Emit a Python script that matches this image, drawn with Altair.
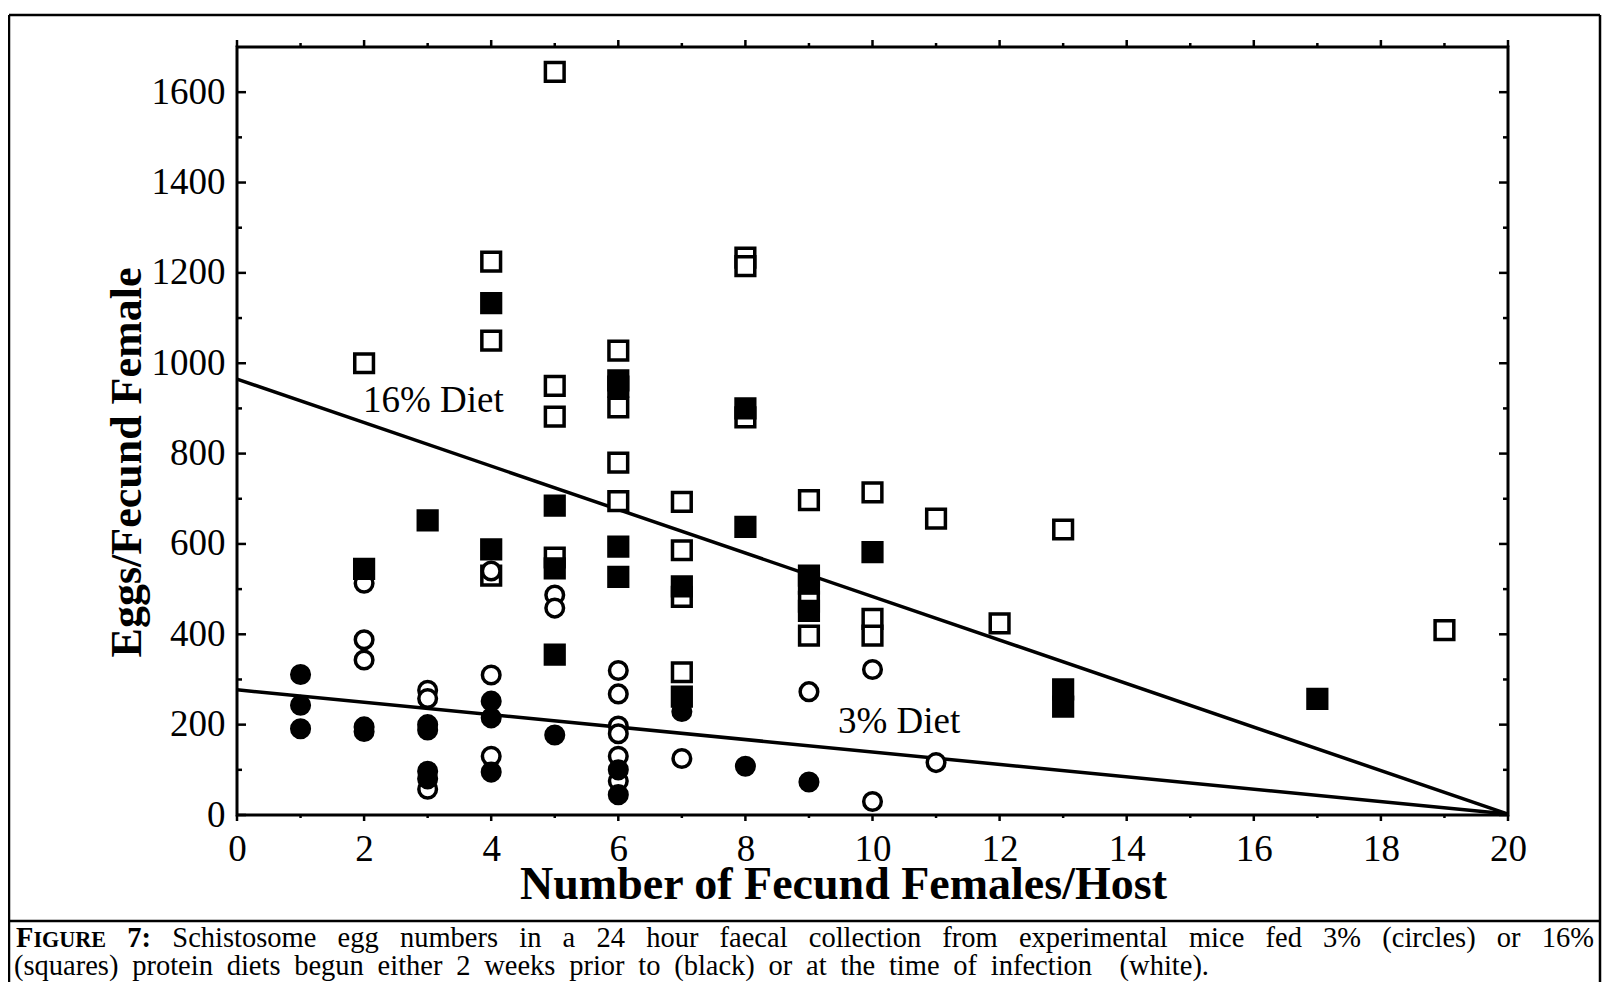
import altair as alt
import pandas as pd

# ---------------- data ----------------
# 16% protein diet (squares); white = diet begun at infection, black = 2 weeks prior
sq_open_x = [2, 4, 4, 4, 5, 5, 5, 5, 6, 6, 6, 6, 7, 7, 7, 7, 8, 8, 8, 9, 9, 9, 10, 10, 10, 11, 12, 13, 19]
sq_open_y = [1000, 1225, 1050, 530, 1645, 950, 882, 570, 1028, 902, 780, 695, 693, 586, 483, 316,
             1234, 1215, 880, 697, 472, 397, 714, 434, 397, 656, 424, 632, 409]
sq_fill_x = [2, 3, 4, 4, 5, 5, 5, 6, 6, 6, 6, 7, 7, 8, 8, 9, 9, 9, 10, 13, 13, 17]
sq_fill_y = [545, 652, 1133, 588, 685, 546, 355, 962, 948, 594, 527, 506, 262, 900, 638,
             530, 512, 452, 582, 278, 240, 257]
# 3% protein diet (circles)
ci_open_x = [2, 2, 2, 3, 3, 3, 4, 4, 4, 5, 5, 6, 6, 6, 6, 6, 6, 7, 9, 10, 10, 11]
ci_open_y = [513, 388, 343, 276, 258, 57, 540, 310, 130, 487, 458, 320, 268, 197, 180, 130, 75,
             125, 273, 322, 30, 116]
ci_fill_x = [1, 1, 1, 2, 2, 3, 3, 3, 3, 4, 4, 4, 5, 6, 6, 7, 8, 9]
ci_fill_y = [311, 243, 191, 195, 185, 200, 188, 97, 80, 252, 215, 95, 177, 100, 45, 229, 108, 73]

# regression lines
line16_x = [0, 20]
line16_y = [965, 2]
line3_x = [0, 20]
line3_y = [277, 2]

# axes
x_major_ticks = [0, 2, 4, 6, 8, 10, 12, 14, 16, 18, 20]
x_minor_ticks = [1, 3, 5, 7, 9, 11, 13, 15, 17, 19]
y_major_ticks = [0, 200, 400, 600, 800, 1000, 1200, 1400, 1600]
y_minor_ticks = [100, 300, 500, 700, 900, 1100, 1300, 1500]
x_title = "Number of Fecund Females/Host"
y_title = "Eggs/Fecund Female"

# line annotations
annot_text = ["16% Diet", "3% Diet"]
annot_x = [3.09, 10.42]
annot_y = [893, 181]

caption_line1 = ("Schistosome egg numbers in a 24 hour faecal collection from "
                 "experimental mice fed 3% (circles) or 16%")
caption_line2 = ("(squares) protein diets begun either 2 weeks prior to (black) or at "
                 "the time of infection  (white).")

# ---------------- layout ----------------
FONT = "Liberation Serif"
W, H = 1271, 768
PX0, PY0 = 237, 47          # page position of plot origin
CW, CH = 1594, 974          # whole canvas


def px(xp):
    return xp - PX0


def py(yp):
    return yp - PY0


XS = alt.Scale(domain=[0, 20], nice=False, zero=False)
YS = alt.Scale(domain=[0, 1700], nice=False, zero=False)

AX_X = alt.Axis(orient="bottom", values=x_major_ticks, format="d", ticks=False, tickSize=0,
                domain=False, grid=False, labelPadding=16, labelFont=FONT, labelFontSize=37,
                labelColor="black", labelFlush=False, labelOverlap=False,
                title=x_title, titleFont=FONT, titleFontSize=46, titleFontWeight="bold",
                titleColor="black", titleX=px(843), titleY=898 - 815,
                titleBaseline="alphabetic", titleAlign="center")
AX_Y = alt.Axis(orient="left", values=y_major_ticks, format="d", ticks=False, tickSize=0,
                domain=False, grid=False, labelPadding=12, labelFont=FONT, labelFontSize=37,
                labelColor="black", labelFlush=False, labelOverlap=False,
                title=y_title, titleFont=FONT, titleFontSize=44, titleFontWeight="bold",
                titleColor="black", titleAngle=270, titleX=px(127), titleY=py(462),
                titleBaseline="middle", titleAlign="center")


def X(field, axis=None):
    if axis is not None:
        return alt.X(field, scale=XS, axis=axis)
    return alt.X(field, scale=XS)


def Y(field, axis=None):
    if axis is not None:
        return alt.Y(field, scale=YS, axis=axis)
    return alt.Y(field, scale=YS)


one = pd.DataFrame({"k": [0]})


def points(xs, ys, shape, fill):
    df = pd.DataFrame({"x": xs, "y": ys})
    size = 350 if shape == "square" else 310
    return alt.Chart(df).mark_point(shape=shape, size=size, filled=True, fill=fill,
                                    stroke="black", strokeWidth=3.5, opacity=1).encode(
        x=X("x:Q"), y=Y("y:Q"))


def reg_line(xs, ys):
    df = pd.DataFrame({"x": xs, "y": ys})
    return alt.Chart(df).mark_line(color="black", strokeWidth=3.5).encode(x=X("x:Q"), y=Y("y:Q"))


def yticks(vals, x0, x1, axis=None):
    return alt.Chart(pd.DataFrame({"v": vals})).mark_rule(color="black", strokeWidth=2.5).encode(
        y=Y("v:Q", axis), x=alt.value(x0), x2=alt.value(x1))


def xticks(vals, y0, y1, axis=None):
    return alt.Chart(pd.DataFrame({"v": vals})).mark_rule(color="black", strokeWidth=2.5).encode(
        x=X("v:Q", axis), y=alt.value(y0), y2=alt.value(y1))


def frame_v(xp, y0p, y1p):
    return alt.Chart(one).mark_rule(color="black", strokeWidth=2.5).encode(
        x=alt.value(px(xp)), y=alt.value(py(y0p)), y2=alt.value(py(y1p)))


def frame_h(yp, x0p, x1p):
    return alt.Chart(one).mark_rule(color="black", strokeWidth=2.5).encode(
        y=alt.value(py(yp)), x=alt.value(px(x0p)), x2=alt.value(px(x1p)))


def text_at(text, xp, yp, size, weight="normal"):
    return alt.Chart(one).mark_text(text=text, font=FONT, fontSize=size, fontWeight=weight,
                                    align="left", baseline="alphabetic", color="black").encode(
        x=alt.value(px(xp)), y=alt.value(py(yp)))


# --- Times-metric glyph widths (per 1000 em) used to justify the caption ---
REG = {" ": 250, "%": 833, "(": 333, ")": 333, ".": 250, ":": 278, "S": 556,
       "a": 444, "b": 500, "c": 444, "d": 500, "e": 444, "f": 333, "g": 500, "h": 500,
       "i": 278, "j": 278, "k": 500, "l": 278, "m": 778, "n": 500, "o": 500, "p": 500,
       "q": 500, "r": 333, "s": 389, "t": 278, "u": 500, "v": 500, "w": 722, "x": 500,
       "y": 500, "z": 444}
BOLD = {"F": 611, "I": 389, "G": 778, "U": 722, "R": 722, "E": 667, ":": 333}


def wlen(s, size, table):
    return sum(table.get(c, 500) for c in s) * size / 1000.0


CAP = 28.5
SC = 22.2


def justified(words, x0, x1, yp, gaps=None):
    """words: list of lists of pieces (text, size, weight)."""
    widths = [sum(wlen(t, s, BOLD if w == "bold" else REG) for t, s, w in wd) for wd in words]
    units = gaps if gaps is not None else [1] * (len(words) - 1)
    gap = (x1 - x0 - sum(widths)) / float(sum(units))
    out = []
    x = x0
    for i, wd in enumerate(words):
        xx = x
        for t, s, w in wd:
            out.append(text_at(t, xx, yp, s, w))
            xx += wlen(t, s, BOLD if w == "bold" else REG)
        x += widths[i] + (gap * units[i] if i < len(units) else 0)
    return out


line1_words = [[("F", CAP, "bold"), ("IGURE", SC, "bold")], [("7:", CAP, "bold")]] + \
    [[(w, CAP, "normal")] for w in caption_line1.split()]
line2_words = []
line2_gaps = []
for tok in caption_line2.split(" "):
    if tok == "":
        line2_gaps[-1] += 1
        continue
    line2_words.append([(tok, CAP, "normal")])
    line2_gaps.append(1)
line2_gaps = line2_gaps[:-1]

caption_layers = justified(line1_words, 16, 1594, 947) + \
    justified(line2_words, 14, 1209, 975, line2_gaps)

annot = alt.Chart(pd.DataFrame({"t": annot_text, "x": annot_x, "y": annot_y})).mark_text(
    font=FONT, fontSize=37, align="center", baseline="alphabetic", color="black").encode(
    x=X("x:Q"), y=Y("y:Q"), text="t:N")

RIGHT = 8 + CW - 2      # page x of right outer frame
BOTTOM = 8 + CH + 4

layers = [
    frame_v(9, 15, BOTTOM), frame_v(RIGHT, 15, BOTTOM), frame_h(15, 9, RIGHT),
    frame_h(921, 9, RIGHT),
    yticks(y_major_ticks, 0, 9, AX_Y), yticks(y_minor_ticks, 0, 5),
    yticks(y_major_ticks, W, W - 9), yticks(y_minor_ticks, W, W - 5),
    xticks(x_major_ticks, H, H + 6, AX_X), xticks(x_minor_ticks, H, H + 3),
    xticks(x_major_ticks, 0, -7), xticks(x_minor_ticks, 0, -4),
    reg_line(line16_x, line16_y), reg_line(line3_x, line3_y),
    points(sq_open_x, sq_open_y, "square", "white"),
    points(ci_open_x, ci_open_y, "circle", "white"),
    points(sq_fill_x, sq_fill_y, "square", "black"),
    points(ci_fill_x, ci_fill_y, "circle", "black"),
    annot,
] + caption_layers

chart = alt.layer(*layers).properties(
    width=W, height=H,
    autosize=alt.AutoSizeParams(type="none"),
    padding={"left": PX0 - 8, "top": PY0 - 8, "right": CW - (PX0 - 8) - W,
             "bottom": CH - (PY0 - 8) - H},
    background="white",
).configure_view(stroke="black", strokeWidth=3)

chart.save("out.html", embed_options={"renderer": "svg", "actions": False})
